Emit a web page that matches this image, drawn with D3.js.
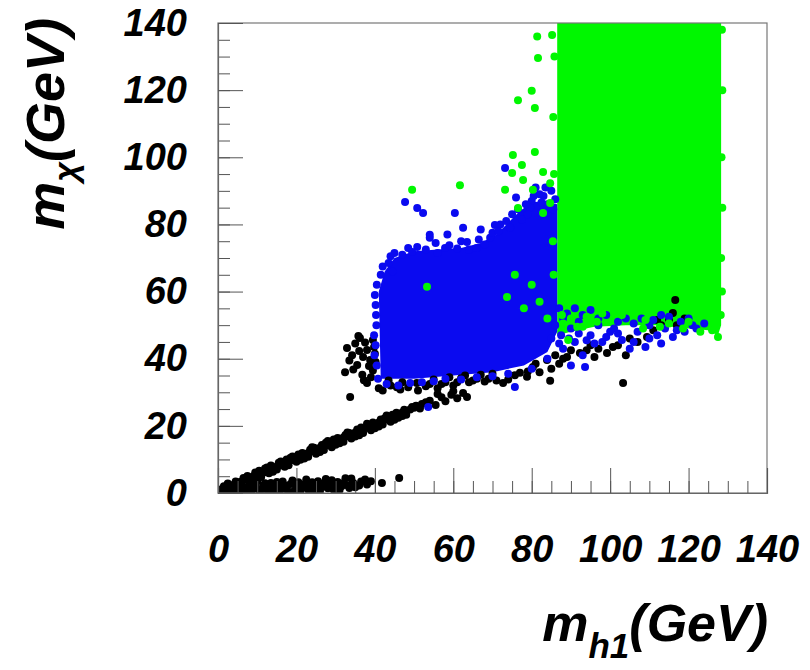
<!DOCTYPE html>
<html>
<head>
<meta charset="utf-8">
<script src="https://cdn.jsdelivr.net/npm/d3@7"></script>
<style>
  body { margin: 0; background: #fff; }
  text { font-family: "Liberation Sans", Arial, Helvetica, sans-serif; font-weight: bold; font-style: italic; }
</style>
</head>
<body>
<svg id="chart" width="810" height="670"></svg>
<script>
// Axis ranges and tick labels (GeV)
const xDomain = [0, 140];
const yDomain = [0, 140];
const xMajorTicks = [0, 20, 40, 60, 80, 100, 120, 140];
const yMajorTicks = [0, 20, 40, 60, 80, 100, 120, 140];
const minorStep = 5;

// Dense core of the green sample: outline in (m_h1, m_chi)
const greenCore = [
  [86.5, 145], [128.3, 145], [128.3, 50], [127.5, 47], [125, 48.5], [120, 49],
  [112, 50], [104, 50], [96, 49.5], [90, 48], [86.5, 47]
];

// Dense core of the blue sample
const blueCore = [
  [41.5, 34], [41, 60], [42.5, 66], [45, 70], [50, 72], [56, 72.5], [62, 73], [67, 74.5],
  [71, 77], [74, 80.5], [77, 84], [80, 86.5], [83, 87], [86.5, 86],
  [86.5, 48], [84, 42], [78, 38], [70, 36], [60, 35], [50, 34]
];

// Individual black points (m_h1, m_chi)
const blackPoints = [
  // diagonal band
  [1,1.2],[2,1.5],[3,2.3],[4,2.4],[5,3.2],[6,3.4],[7,4.1],[8,4.4],[9,5.0],[10,5.3],
  [11,6.0],[12,6.2],[13,7.0],[14,7.3],[15,7.9],[16,8.3],[17,8.7],[18,9.4],[19,9.8],[20,10.4],
  [21,10.8],[22,11.5],[23,11.9],[24,12.4],[25,12.8],[26,13.5],[27,13.9],[28,14.3],[29,15.0],[30,15.4],
  [31,15.9],[32,16.5],[33,16.9],[34,17.4],[35,18.0],[36,18.3],[37,19.0],[38,19.4],[39,19.9],[40,20.4],
  [41,21.0],[42,21.3],[43,22.0],[44,22.4],[45,22.9],[46,23.3],[47,24.0],[48,24.2],[49,24.9],[50,25.4],
  [3,0.8],[5,2.0],[8,3.2],[11,4.8],[14,6.3],[17,7.8],[20,9.3],[22,10.3],[25,11.7],[27,12.8],
  [30,14.4],[32,15.3],[35,16.8],[37,17.9],[40,19.3],[42,20.4],[44,21.2],[46,22.4],[48,23.3],
  [12,7.3],[16,9.4],[19,10.9],[24,13.6],[28,15.5],[33,18.0],[38,20.6],[43,23.1],
  [1.5,2.0],[2.5,2.6],[4.5,3.4],[6.5,4.5],[7.5,5.1],[9.5,6.1],[10.5,6.6],[12.5,7.6],[13.5,8.2],[15.5,9.0],
  [17.5,10.0],[18.5,10.5],[20.5,11.5],[21.5,11.9],[23.5,12.9],[24.5,13.5],[26.5,14.3],[27.5,15.0],[29.5,15.9],[30.5,16.4],
  [32.5,17.3],[33.5,17.9],[35.5,18.9],[36.5,19.5],[38.5,20.3],[39.5,21.0],[41.5,21.9],[42.5,22.3],[44.5,23.3],[45.5,23.9],
  [47.5,24.8],[49.5,25.6],[50.5,26.0],[2,0.4],[4,1.4],[6,2.6],[9,4.0],[13,5.9],[15,7.0],[18,8.3],
  [21,9.9],[23,10.8],[26,12.2],[29,13.6],[31,14.8],[34,16.2],[36,17.2],[39,18.7],[41,19.8],[45,21.8],[47,22.9],
  // low row near the axis
  [1,0.3],[2.5,2.8],[3.5,1.2],[4.5,0.5],[6,2.0],[7,0.8],[8,2.6],[9,1.3],[10,3.5],[10.5,0.6],
  [11.5,2.2],[12.5,1.0],[13.5,3.0],[14.5,0.4],[15.5,2.0],[16.5,3.4],[17.5,1.1],[18.5,2.7],[19.5,0.7],[20.5,3.2],
  [21.5,1.6],[22.5,4.0],[23.5,2.3],[24.5,0.9],[25.5,3.5],[26.5,1.8],[27.5,4.2],[28.5,2.6],[29.5,1.0],[30.5,3.3],
  [31.5,2.0],[32.5,4.4],[33.5,1.5],[34.5,3.0],[36,2.2],[37.5,4.0],[39,3.5],[41.8,3.0],[46.2,4.5],
  [2,0.2],[3,1.5],[5,1.0],[5.5,2.6],[6.5,0.3],[7.5,1.8],[8.5,0.5],[9.5,2.3],[11,1.0],[12,2.9],
  [13,0.7],[14,2.1],[15,3.3],[16,1.0],[17,2.2],[18,0.4],[19,3.7],[20,1.9],[21,0.5],[22,2.6],
  [23,1.0],[24,3.2],[25,2.0],[26,0.6],[27,2.9],[28,1.4],[29,3.8],[30,2.2],[31,0.9],[32,3.0],
  [33,2.3],[34,4.3],[35,1.7],[36.5,3.4],[38,2.5],
  // cluster near m_h1 ~ 35
  [32.9,43.2],[36.2,46.2],[38,42.6],[35.5,38.1],[32.4,36],[38,32.8],[33.7,28.6],[39.5,45.6],[38.8,39.6],
  [35,44.5],[37,40.5],[36.8,35.2],[39.5,36.5],[34.2,41],[37.5,44.8],[40,41.5],[39,34.5],
  [33.5,39.5],[36,42.3],[38.5,37.8],[40.2,39],[35.8,46.8],[37.2,33.6],[39.8,43.5],[34.5,36.8],
  // continuation of the band
  [52,26.5],[54,27.5],[55.5,26.2],[57,28.5],[58,27.3],[59.5,29.3],[61,28.2],[62.5,29.8],[56,29.5],
  [51.5,25.2],[53,27],[60,30.3],[63.5,28.6],
  // along the lower edge of the blue region
  [41,31.2],[43.5,33.5],[45.6,31.5],[47,33],[50.7,32.8],[53,31.8],[55,33.8],[57,32.5],[59,34.5],[61,33],
  [63,35],[65,33.5],[67,35.2],[69,34],[72.7,32.8],[75.7,35.1],[78.8,34.6],[80.3,37.5],[83.9,39.6],[84.7,33.4],
  [92.3,41.7],[99.2,41.7],[100.7,43.5],[103.3,32.8],[109.4,46.5],[112,51.5],[116.6,57.5],[116,53.6],
  [88,40],[90,42.5],[95,44],[105,46],
  [42,30.5],[44,32],[46.5,30.8],[48.5,31.5],[51,30.5],[54,32.5],[56,31.2],[58,33],[60,32],[62,34.2],
  [64,33],[66,34],[68,33.2],[70,35.5],[71,33.5],[74,33.8],[77,35.8],[79,36.2],[81,38.5],[82,36],
  [85,37],[86,41],[87,38.5],[89,40.5],[94,42.5],[97,43],[102,44],[107,45],[111,48.5],[113,50],
  [115,51.5],[117,50],[119,52],[96,40.5],[104,41]
];

// Individual blue points
const bluePoints = [
  [47.7,86.7],[50.8,84.9],[52.3,83.4],[60.4,83.4],[54,76.9],[54,76],[70.6,79.8],[69.4,76],[50.8,73.3],[48.5,73],
  [66,73],[57.9,73],[73.2,96.8],[80,87],[82,89],[84,86],[79.6,85],[76,88],[44,70.5],[42,67.5],
  [40.5,62],[40.2,56],[40.4,50],[40.2,44],[40.5,38],[40.8,34],[45,71.5],[62,75],[64,72.5],[56,71.5],
  [72,80],[75,83],[78.5,86],[83,88.5],[85,90],[81,91],
  [41.5,65],[43.5,68.5],[47,71],[49.5,71.8],[53,72.5],[55.5,74.5],[59,73.8],[61,72.8],[63.5,74.8],[66.5,75.5],
  [68,74],[70,77.5],[71.5,78],[73.5,81],[74.5,79],[76.5,84.5],[77.5,81.5],[79,83],[80.5,88.5],[82.5,86.5],
  [85.5,84.5],[83.5,91],[86,87.5],[44.5,66],[58.5,77],[62.5,79],[67,78.5],[39.8,47],[39.9,41],[40,59],[40.3,53],
  [43,32.5],[46,32],[49,32.8],[52,33],[55,33.3],[58,34],[62,33.8],[66,34.5],[70,34.8],[74,35.5],
  [75.7,31.6],[80,37],[84,40],[88,43],[91,45],[93.6,37.5],[95,47],[98,45],[100,48],[103,45.6],
  [105,43],[109,43.5],[112,47],[116,46.5],[107,48],[90,49],[92,51],[97,52],[102,51],[110,50],
  [114,49],[119,48],[121,50],[118,51],[88,52],[53.6,25.6],
  [87,55],[89,53.5],[91,55],[93,53],[95,54.5],[97,50],[99,53],[101,49],[104,52],[106,50.5],
  [108,52],[111,51.5],[113,53],[115,52.5],[117,48.5],[120,52],[122,49],[124,50.5],[87.5,47],[89.5,46],
  [92,47.5],[94,45.5],[96,44.5],[99,46.5],[102,47.5],[106,45],[110,46],[113,44.5],[85,46],[86,50],
  [87,44.5],[90,38],[93,41]
];

// Individual green points
const greenPoints = [
  [81.4,136],[85.2,136.4],[81.6,129.6],[80,119.8],[76.5,117],[80.8,114.7],[75.2,100.7],[80.8,101.6],
  [77.5,97.7],[73.2,90.3],[80.3,90.3],[75,95.3],[77.8,93.2],[82.9,95.6],[84.7,92.3],[76.5,84.9],
  [82.9,83.4],[84.7,86.4],[49.5,90.3],[61.7,91.7],[53.3,61.4],[75.7,65],[73.7,58.4],[80,62],
  [82,57],[84,52],[78,55],[87.7,53],[89.3,45.6],[93,49.5],[91.6,49.5],[96.6,51],[127.5,46.5],
  [108.4,49],[112.7,49.5],[118.6,49],
  [88,50.5],[90,52],[94,52.5],[98,53.5],[103,53],[109,51.5],[115,50.5],[120,51],[123,48],[126,48.5],
  [128.5,138],[128.6,120],[128.4,100],[128.6,85],[128.3,70],[128.5,60],[128.2,53],
  [85.8,130],[85.5,112],[85.7,95],[85.4,75],[85.6,65]
];

const colors = { black: "#000000", blue: "#0a0af0", green: "#00f700" };
const radius = 4;

const margin = { left: 218, top: 23, right: 810 - 767, bottom: 670 - 493 };
const width = 810 - margin.left - margin.right;
const height = 670 - margin.top - margin.bottom;

const svg = d3.select("#chart");
const x = d3.scaleLinear().domain(xDomain).range([margin.left, margin.left + width]);
const y = d3.scaleLinear().domain(yDomain).range([margin.top + height, margin.top]);

svg.append("defs").append("clipPath").attr("id", "plot-clip")
  .append("rect").attr("x", margin.left).attr("y", margin.top).attr("width", width).attr("height", height);

const plot = svg.append("g").attr("clip-path", "url(#plot-clip)");
const outline = d3.line().x(d => x(d[0])).y(d => y(d[1])).curve(d3.curveLinearClosed);

plot.append("path").attr("d", outline(greenCore)).attr("fill", colors.green);
plot.append("path").attr("d", outline(blueCore)).attr("fill", colors.blue);

function drawPoints(data, color) {
  plot.append("g").selectAll("circle").data(data).join("circle")
    .attr("cx", d => x(d[0])).attr("cy", d => y(d[1])).attr("r", radius).attr("fill", color);
}
drawPoints(blackPoints, colors.black);
drawPoints(bluePoints, colors.blue);
drawPoints(greenPoints, colors.green);

// Frame
svg.append("rect").attr("x", margin.left).attr("y", margin.top).attr("width", width).attr("height", height)
  .attr("fill", "none").attr("stroke", "#777").attr("stroke-width", 1.2);

const minorTicks = d3.range(xDomain[0], xDomain[1] + 0.1, minorStep);

// Minor ticks (inward)
svg.append("g").attr("transform", `translate(0,${margin.top + height})`)
  .call(d3.axisBottom(x).tickValues(minorTicks).tickSize(-12).tickFormat(""))
  .call(g => g.select(".domain").remove());
svg.append("g").attr("transform", `translate(${margin.left},0)`)
  .call(d3.axisLeft(y).tickValues(minorTicks).tickSize(-12).tickFormat(""))
  .call(g => g.select(".domain").remove());

// Major ticks with labels
const xAxis = svg.append("g").attr("transform", `translate(0,${margin.top + height})`)
  .call(d3.axisBottom(x).tickValues(xMajorTicks).tickSize(-25).tickPadding(42).tickFormat(d3.format("d")));
const yAxis = svg.append("g").attr("transform", `translate(${margin.left},0)`)
  .call(d3.axisLeft(y).tickValues(yMajorTicks).tickSize(-25).tickPadding(31).tickFormat(d3.format("d")));

svg.selectAll(".tick line").attr("stroke", "#555").attr("stroke-width", 1);
svg.selectAll(".domain").attr("stroke", "#666").attr("stroke-width", 1.2);
[xAxis, yAxis].forEach(a => a.selectAll("text")
  .attr("fill", "#000").style("font-size", "38px")
  .style("font-family", "'Liberation Sans', Arial, sans-serif")
  .style("font-weight", "bold").style("font-style", "italic"));

// Axis titles
const xTitle = svg.append("text").attr("x", 768).attr("y", 641).attr("text-anchor", "end")
  .style("font-size", "52px");
xTitle.append("tspan").text("m");
xTitle.append("tspan").attr("dy", 17).style("font-size", "35px").text("h1");
xTitle.append("tspan").attr("dy", -17).text("(GeV)");

const yTitle = svg.append("text").attr("transform", "translate(64,18) rotate(-90)")
  .attr("text-anchor", "end").style("font-size", "54px");
yTitle.append("tspan").text("m");
yTitle.append("tspan").attr("dy", 13).style("font-size", "34px").text("χ");
yTitle.append("tspan").attr("dy", -13).text("(GeV)");
</script>
</body>
</html>
